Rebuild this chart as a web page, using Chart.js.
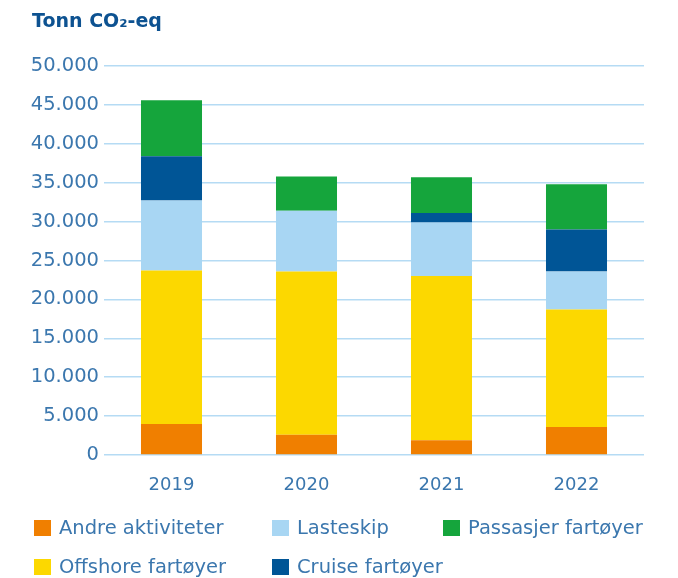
<!DOCTYPE html>
<html>
<head>
<meta charset="utf-8">
<script src="https://cdn.jsdelivr.net/npm/chart.js@4/dist/chart.umd.min.js"></script>
<style>
  html, body { margin: 0; padding: 0; background: #ffffff; }
  #wrap { position: relative; width: 678px; height: 578px; overflow: hidden; }
  #title { position: absolute; left: 32px; top: 9px; font-family: "DejaVu Sans", sans-serif; font-weight: bold; font-size: 19px; color: #0d5291; white-space: nowrap; }
  .lg { position: absolute; font-family: "DejaVu Sans", sans-serif; font-size: 19.5px; color: #3b77ae; white-space: nowrap; }
  .lg .box { position: absolute; left: 0; top: 0; width: 17px; height: 16px; }
  .lg .txt { position: absolute; left: 25px; top: -4px; line-height: 24px; }
</style>
</head>
<body>
<div id="wrap">
  <canvas id="c" width="678" height="578"></canvas>
  <div id="title">Tonn CO₂-eq</div>
  <div id="legend"></div>
</div>
<script>
const years = ['2019', '2020', '2021', '2022'];
const andreAktiviteter = [4000, 2600, 1900, 3600];
const offshoreFartoyer = [19700, 21000, 21100, 15100];
const lasteskip = [9000, 7800, 6900, 4900];
const cruiseFartoyer = [5700, 0, 1200, 5400];
const passasjerFartoyer = [7200, 4400, 4600, 5800];
const yMax = 50000;
const yStep = 5000;

const seriesNames = ['Andre aktiviteter', 'Offshore fartøyer', 'Lasteskip', 'Cruise fartøyer', 'Passasjer fartøyer'];
const seriesData = [andreAktiviteter, offshoreFartoyer, lasteskip, cruiseFartoyer, passasjerFartoyer];
const seriesColors = ['#f07f00', '#fcd800', '#a8d6f3', '#005596', '#15a53c'];

const textColor = '#3b77ae';
const fontFamily = '"DejaVu Sans", sans-serif';

function fmt(v) {
  return String(v).replace(/\B(?=(\d{3})+(?!\d))/g, '.');
}

const chart = new Chart(document.getElementById('c'), {
  type: 'bar',
  data: {
    labels: years,
    datasets: seriesNames.map((name, i) => ({
      label: name,
      data: seriesData[i],
      backgroundColor: seriesColors[i],
      borderWidth: 0,
      barPercentage: 0.452,
      categoryPercentage: 1.0
    }))
  },
  options: {
    responsive: false,
    animation: false,
    layout: { padding: { top: 66, right: 34, left: 0, bottom: 0 } },
    plugins: {
      legend: { display: false },
      tooltip: { enabled: false },
      title: { display: false }
    },
    scales: {
      x: {
        stacked: true,
        grid: { display: false, drawTicks: false },
        border: { display: false },
        ticks: { color: textColor, font: { family: fontFamily, size: 18 }, padding: 20 },
        afterFit: (s) => { s.height = 123; }
      },
      y: {
        stacked: true,
        min: 0,
        max: yMax,
        ticks: {
          stepSize: yStep,
          color: textColor,
          font: { family: fontFamily, size: 19.5 },
          padding: 5,
          callback: (v) => fmt(v)
        },
        grid: { color: '#b5dbf4', lineWidth: 1.5, drawTicks: false },
        border: { display: false },
        afterFit: (s) => { s.width = 104; }
      }
    }
  }
});

// HTML legend built from chart datasets
const legendOrder = ['Andre aktiviteter', 'Lasteskip', 'Passasjer fartøyer', 'Offshore fartøyer', 'Cruise fartøyer'];
const colLeft = [34, 272, 443];
const rowTop = [520, 559];
const legendEl = document.getElementById('legend');
legendOrder.forEach((name, k) => {
  const ds = chart.data.datasets.find(d => d.label === name);
  const item = document.createElement('div');
  item.className = 'lg';
  item.style.left = colLeft[k % 3] + 'px';
  item.style.top = rowTop[Math.floor(k / 3)] + 'px';
  const box = document.createElement('span');
  box.className = 'box';
  box.style.background = ds.backgroundColor;
  const txt = document.createElement('span');
  txt.className = 'txt';
  txt.textContent = ds.label;
  item.appendChild(box);
  item.appendChild(txt);
  legendEl.appendChild(item);
});
</script>
</body>
</html>
